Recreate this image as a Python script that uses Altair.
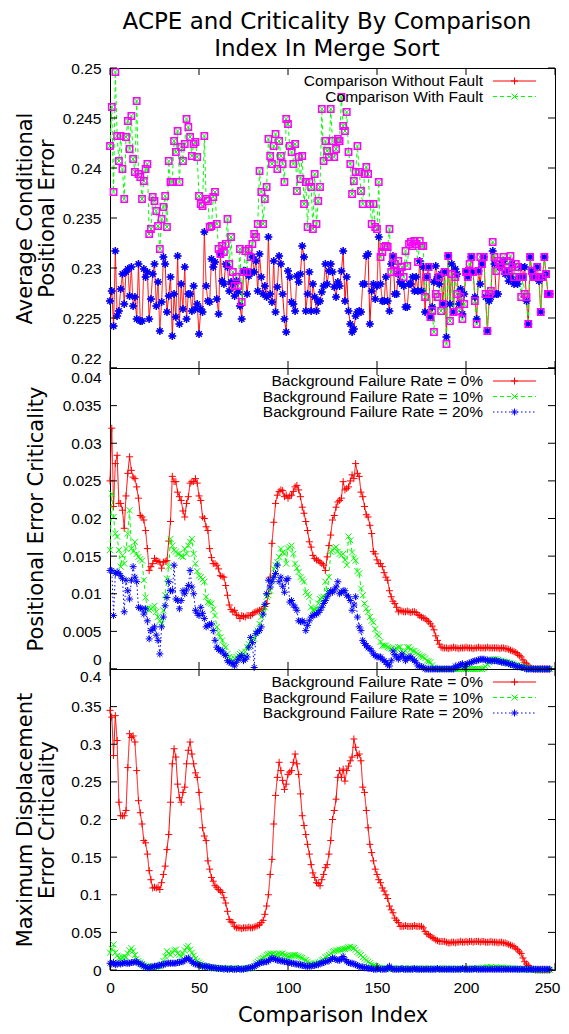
import altair as alt
import pandas as pd

IDX = list(range(248))

ACPE_WITHOUT = [
.2267,.2277,.2242,.2317,.2252,.2257,.2279,.2294,.2264,.2296,
.2299,.2272,.2301,.2262,.2271,.2249,.2304,.2247,.2247,.2299,
.2291,.2296,.2249,.2269,.2294,.2304,.2262,.2286,.2237,.2266,
.2311,.2304,.2256,.2272,.2291,.2232,.2274,.2251,.2312,.2244,
.2284,.2259,.2301,.2249,.2274,.2274,.2257,.2282,.2259,.2264,
.2234,.2259,.2256,.2336,.2282,.2267,.2266,.2309,.2301,.2306,
.2269,.2254,.2314,.2287,.2284,.2304,.2301,.2277,.2286,.2284,
.2272,.2287,.2276,.2262,.2249,.2297,.2297,.2274,.2292,.2296,
.2311,.2296,.2307,.2277,.2314,.2291,.2274,.2282,.2271,.2331,
.2274,.2266,.2307,.2256,.2281,.2312,.2304,.2274,.2249,.2236,
.2297,.2291,.2266,.2264,.2257,.2292,.2286,.2294,.2322,.2311,
.2257,.2274,.2296,.2257,.2284,.2271,.2257,.2266,.2267,.2276,
.2282,.2304,.2284,.2297,
.2304,.2296,.2281,.2271,.2286,.2282,.2297,.2317,
.2267,.2291,.2257,.2244,.2236,.2239,.2252,.2256,
.2257,.2256,.2284,.2284,.2312,.2314,.2244,.2277,.2284,.2269,.2282,.2331,.2284,.2267,
.2267,.2291,.2267,.2257,.2304,.2312,.2274,.2274,.2294,.2286,.2284,.2282,.2261,.2261,.2284,
.2284,.2291,.2277,.2291,.2277,.2307,.2277,.2301,.2256,.2291,.2301,.2251,.2261,.2286,.2302,
.2291,.2284,.2294,.2264,.2296,.2231,.2312,.2264,.2304,.2256,.2299,.2294,.2264,.2279,.2254,
.2274,.2297,.2291,.2296,.2311,.2296,.2271,.2249,.2297,.2284,.2304,.2311,.2271,.2237,.2267,
.2271,.2317,.2304,.2274,.2274,.2301,.2304,.2307,.2294,.2297,.2287,.2291,.2304,.2284,.2287,
.2284,.2291,.2301,.2291,.2301,.2267,.2244,.2311,.2297,.2291,.2291,.2301,.2287,.2256,.2291,.2311,.2294,.2274,.2274]

ACPE_WITH = [
.2422,.2461,.2376,.2496,.2432,.2407,.2432,.2399,.2369,.2431,
.2447,.2419,.2452,.2409,.2396,.2467,.2394,.2391,.2369,.2387,
.2399,.2404,.2334,.2339,.2371,.2367,.2357,.2342,.2319,.2349,
.2361,.2372,.2341,.2407,.2386,.2386,.2427,.2416,.2437,.2386,
.2421,.2407,.2424,.2449,.2441,.2431,.2412,.2424,.2426,.2411,
.2372,.2364,.2362,.2432,.2369,.2367,.2341,.2342,.2371,.2376,
.2344,.2319,.2314,.2322,.2316,.2324,.2349,.2304,.2331,.2296,
.2282,.2291,.2282,.2319,.2266,.2296,.2317,.2296,.2319,.2311,
.2324,.2334,.2331,.2344,.2397,.2376,.2344,.2369,.2381,.2429,
.2412,.2404,.2422,.2434,.2399,.2427,.2412,.2404,.2386,.2449,
.2444,.2422,.2416,.2404,.2424,.2377,.2411,.2389,.2412,.2364,
.2386,.2341,.2386,.2381,.2339,.2394,.2344,.2367,.2381,.2459,
.2407,.2427,.2417,.2411,
.2459,.2427,.2411,.2419,.2429,.2427,.2471,.2442,.2437,.2456,.2416,.2404,.2374,.2387,.2396,
.2422,
.2396,.2377,.2364,.2394,.2401,.2394,.2364,.2344,.2364,.2341,.2339,.2386,.2311,.2316,
.2321,.2322,.2321,.2339,.2296,.2311,.2304,.2296,.2307,.2296,.2301,.2291,.2317,.2302,.2324,
.2326,.2322,.2327,.2324,.2306,.2327,.2322,.2322,.2271,.2291,.2301,.2251,.2257,.2236,.2274,
.2271,.2291,.2257,.2264,.2296,.2224,.2312,.2247,.2294,.2256,.2291,.2274,.2257,.2271,.2249,
.2264,.2296,.2291,.2304,.2311,.2296,.2267,.2244,.2297,.2311,.2304,.2311,.2274,.2237,.2274,
.2277,.2326,.2311,.2297,.2307,.2304,.2301,.2311,.2297,.2307,.2297,.2312,.2301,.2291,.2304,
.2301,.2291,.2271,.2291,.2274,.2271,.2244,.2311,.2297,.2291,.2291,.2301,.2291,.2256,.2291,.2311,.2294,.2274,.2274]

PE_0 = [
.0250,.0320,.0216,.0273,.0284,.0220,.0220,.0211,.0187,.0230,
.0260,.0282,.0264,.0255,.0253,.0242,.0227,.0204,.0202,.0198,
.0184,.0160,.0131,.0136,.0140,.0147,.0144,.0143,.0142,.0134,
.0142,.0143,.0144,.0170,.0196,.0256,.0249,.0249,.0235,.0229,
.0224,.0210,.0202,.0220,.0229,.0247,.0249,.0249,.0253,.0247,
.0230,.0224,.0202,.0200,.0189,.0184,.0160,.0148,.0140,.0140,
.0138,.0133,.0124,.0123,.0122,.0111,.0098,.0085,.0079,.0076,
.0078,.0072,.0071,.0067,.0071,.0070,.0069,.0071,.0071,.0071,
.0073,.0075,.0076,.0077,.0078,.0079,.0080,.0083,.0087,.0100,
.0122,.0167,.0195,.0220,.0231,.0236,.0238,.0237,.0229,.0231,
.0227,.0230,.0231,.0236,.0242,.0244,.0238,.0229,.0215,.0207,
.0196,.0184,.0169,.0162,.0151,.0147,.0145,.0144,.0142,.0140,
.0138,.0131,.0149,.0164,.0178,.0198,.0204,.0215,.0222,.0224,
.0227,.0249,.0238,.0240,.0242,.0250,.0258,.0253,.0273,.0260,
.0256,.0235,.0229,.0216,.0205,.0202,.0191,.0180,.0156,.0153,
.0145,.0140,.0140,.0136,.0128,.0122,.0118,.0104,.0096,.0090,
.0087,.0082,.0076,.0078,.0077,.0076,.0076,.0077,.0076,.0075,
.0076,.0076,.0075,.0072,.0071,.0069,.0068,.0067,.0065,.0063,
.0060,.0057,.0052,.0044,.0038,.0033,.0029,.0028,.0028,.0028,
.0027,.0028,.0028,.0029,.0028,.0028,.0027,.0028,.0028,.0028,
.0029,.0028,.0028,.0028,.0027,.0028,.0028,.0029,.0028,.0028,
.0028,.0028,.0029,.0028,.0028,.0028,.0028,.0028,.0028,.0027,
.0028,.0028,.0027,.0027,.0026,.0025,.0024,.0023,.0022,.0020,
.0018,.0016,.0012,.0009,.0007,.0004,.0002,.0001,0,0,
0,0,0,0,0,0,0,0]

PE_10 = [
.0158,.0233,.0202,.0180,.0176,.0158,.0136,.0151,.0140,.0160,
.0180,.0211,.0160,.0156,.0169,.0153,.0149,.0146,.0144,.0118,
.0095,.0080,.0078,.0080,.0082,.0084,.0076,.0069,.0064,.0060,
.0078,.0098,.0120,.0136,.0173,.0164,.0158,.0156,.0153,.0153,
.0150,.0149,.0160,.0153,.0164,.0169,.0173,.0153,.0140,.0130,
.0124,.0122,.0119,.0116,.0096,.0089,.0088,.0087,.0079,.0071,
.0056,.0048,.0042,.0038,.0031,.0029,.0020,.0016,.0013,.0011,
.0014,.0016,.0018,.0020,.0022,.0016,.0023,.0029,.0033,.0036,
.0038,.0040,.0048,.0051,.0060,.0069,.0075,.0082,.0096,.0098,
.0104,.0118,.0133,.0138,.0142,.0149,.0160,.0155,.0153,.0140,
.0160,.0162,.0164,.0153,.0140,.0134,.0129,.0122,.0119,.0116,
.0102,.0099,.0096,.0082,.0078,.0079,.0080,.0087,.0093,.0095,
.0096,.0116,.0102,.0122,.0156,.0158,.0160,.0162,.0156,.0153,
.0151,.0153,.0145,.0138,.0176,.0171,.0155,.0147,.0144,.0130,
.0127,.0107,.0098,.0087,.0080,.0076,.0069,.0064,.0062,.0053,
.0046,.0044,.0036,.0031,.0031,.0031,.0029,.0028,.0027,.0024,
.0026,.0027,.0029,.0029,.0020,.0022,.0024,.0029,.0029,.0026,
.0024,.0024,.0022,.0020,.0018,.0017,.0016,.0014,.0011,.0010,
.0009,.0005,.0002,0,0,0,0,0,0,0,
0,0,0,0,0,0,0,0,0,0,
0,0,0,0,0,0,0,0,0,0,
.0001,.0003,.0006,.0009,.0011,.0013,.0013,.0013,.0012,.0011,
.0011,.0010,.0009,.0009,.0008,.0008,.0007,.0006,.0005,.0005,
.0004,.0003,.0003,.0002,.0002,.0001,0,0,0,0,
0,0,0,0,0,0,0,0]

PE_20 = [
.0131,.0131,.0071,.0127,.0129,.0127,.0124,.0120,.0076,.0118,
.0104,.0093,.0118,.0136,.0122,.0116,.0082,.0081,.0080,.0073,
.0080,.0064,.0040,.0051,.0053,.0056,.0045,.0038,.0020,.0056,
.0069,.0084,.0095,.0116,.0104,.0104,.0138,.0093,.0091,.0080,
.0091,.0104,.0100,.0105,.0111,.0131,.0109,.0100,.0078,.0074,
.0071,.0082,.0074,.0067,.0056,.0058,.0059,.0060,.0051,.0038,
.0029,.0026,.0024,.0024,.0020,.0018,.0011,.0009,.0008,.0007,
.0004,.0009,.0013,.0016,.0018,.0011,.0013,.0016,.0029,.0042,
.0035,.0002,.0047,.0050,.0051,.0056,.0073,.0086,.0100,.0118,
.0109,.0116,.0122,.0127,.0138,.0116,.0122,.0110,.0102,.0118,
.0120,.0089,.0091,.0085,.0082,.0078,.0064,.0063,.0064,.0062,
.0051,.0058,.0064,.0069,.0071,.0072,.0073,.0075,.0078,.0082,
.0087,.0091,.0096,.0100,.0104,.0102,.0105,.0109,.0116,.0100,
.0102,.0104,.0104,.0098,.0096,.0091,.0078,.0085,.0096,.0069,
.0056,.0051,.0038,.0034,.0031,.0028,.0027,.0024,.0020,.0018,
.0016,.0016,.0016,.0013,.0011,.0009,.0006,.0004,.0011,.0024,
.0019,.0016,.0013,.0016,.0020,.0016,.0011,.0014,.0016,.0016,
.0013,.0011,.0009,.0004,.0004,.0003,.0002,0,0,0,
0,0,0,0,0,0,0,0,0,0,
0,0,0,0,.0004,.0002,.0005,.0006,.0007,.0003,
.0006,.0007,.0008,.0009,.0010,.0011,.0011,.0012,.0013,.0013,
.0013,.0012,.0012,.0011,.0011,.0011,.0011,.0011,.0010,.0010,
.0009,.0009,.0008,.0008,.0007,.0006,.0006,.0005,.0004,.0003,
.0003,.0002,.0002,.0001,0,0,0,0,0,0,
0,0,0,0,0,0,0,0]

MD_0 = [
.345,.336,.285,.338,.305,.223,.205,.205,.205,.212,
.269,.314,.309,.311,.303,.265,.225,.209,.194,.172,
.169,.154,.132,.120,.109,.110,.109,.110,.107,.116,
.127,.138,.160,.180,.223,.274,.294,.283,.247,.229,
.223,.236,.243,.274,.292,.303,.287,.274,.262,.256,
.236,.214,.189,.178,.172,.145,.134,.123,.118,.112,
.110,.107,.105,.103,.096,.089,.078,.067,.064,.063,
.058,.056,.056,.056,.055,.056,.056,.056,.057,.056,
.056,.057,.058,.059,.060,.063,.066,.074,.085,.100,
.127,.147,.194,.232,.256,.276,.265,.252,.240,.247,
.260,.263,.265,.276,.287,.274,.260,.234,.205,.192,
.180,.167,.154,.140,.129,.123,.116,.115,.112,.120,
.127,.136,.140,.154,.172,.200,.212,.227,.256,.265,
.256,.267,.251,.265,.271,.278,.283,.307,.296,.285,
.287,.278,.243,.236,.212,.189,.167,.156,.145,.134,
.127,.120,.116,.109,.105,.100,.095,.085,.080,.076,
.069,.066,.063,.058,.058,.058,.059,.058,.058,.058,
.058,.059,.058,.058,.058,.058,.056,.051,.048,.047,
.045,.043,.042,.040,.039,.038,.038,.038,.038,.037,
.036,.036,.037,.037,.036,.037,.037,.038,.037,.037,
.038,.037,.038,.038,.037,.038,.038,.038,.037,.038,
.038,.037,.037,.037,.038,.037,.037,.037,.036,.037,
.037,.036,.036,.035,.034,.033,.032,.031,.029,.027,
.024,.022,.016,.011,.008,.006,.003,.001,.001,0,
0,0,0,0,0,0,0,0]

MD_10 = [
.023,.028,.034,.023,.019,.016,.015,.017,.018,.017,
.022,.026,.029,.025,.020,.015,.012,.010,.008,.006,
.005,.005,.004,.004,.004,.005,.004,.005,.005,.008,
.012,.018,.025,.022,.020,.023,.026,.027,.022,.020,
.018,.022,.026,.030,.032,.027,.023,.019,.015,.012,
.010,.008,.006,.005,.005,.004,.004,.003,.003,.003,
.002,.002,.002,.003,.002,.002,.002,.001,.002,.002,
.002,.001,.002,.002,.002,.001,.002,.002,.002,.003,
.003,.005,.009,.011,.013,.015,.016,.018,.020,.021,
.022,.021,.022,.020,.021,.022,.021,.022,.020,.019,
.018,.018,.019,.020,.020,.019,.018,.017,.016,.014,
.013,.011,.009,.008,.007,.008,.009,.010,.011,.013,
.014,.017,.018,.020,.022,.024,.025,.026,.026,.027,
.027,.028,.028,.029,.030,.031,.030,.029,.027,.024,
.022,.020,.017,.015,.013,.011,.009,.007,.006,.005,
.004,.003,.002,.002,.003,.002,.002,.001,.002,.002,
.002,.001,.002,.002,.001,.002,.002,.001,.002,.002,
.001,.002,.002,.001,.002,.001,.002,.002,.001,.002,
.002,.001,.002,.001,.002,.002,.001,.002,.001,.002,
.002,.001,.002,.001,.001,.002,.001,.002,.001,.001,
.002,.001,.002,.001,.002,.002,.001,.002,.002,.003,
.003,.003,.004,.003,.004,.003,.003,.004,.003,.003,
.003,.003,.002,.003,.002,.002,.002,.002,.001,.002,
.001,.001,.001,.001,.001,.001,0,.001,0,0,
0,0,0,0,0,0,0,0]

MD_20 = [
.009,.008,.010,.007,.008,.009,.008,.009,.010,.009,
.009,.009,.010,.010,.011,.011,.009,.008,.007,.005,
.004,.003,.003,.004,.004,.005,.005,.006,.006,.007,
.007,.008,.009,.009,.009,.009,.009,.009,.010,.010,
.011,.011,.013,.015,.016,.013,.011,.009,.008,.007,
.007,.006,.005,.005,.005,.004,.004,.003,.003,.003,
.002,.002,.002,.002,.001,.002,.001,.001,.002,.001,
.001,.001,.002,.001,.001,.001,.002,.002,.003,.003,
.004,.005,.006,.008,.009,.010,.010,.011,.011,.012,
.014,.016,.015,.014,.013,.013,.012,.012,.011,.011,
.010,.010,.009,.009,.008,.008,.007,.007,.006,.006,
.005,.005,.005,.005,.006,.006,.007,.007,.009,.009,
.010,.011,.012,.012,.014,.016,.015,.014,.013,.013,
.015,.018,.014,.011,.010,.009,.009,.008,.007,.006,
.005,.004,.004,.003,.003,.002,.002,.002,.001,.001,
.001,.002,.001,.001,.001,.001,.002,.005,.002,.001,
.001,.001,.001,.001,.002,.001,.001,.001,.001,.001,
.001,.002,.001,.001,.001,.001,.001,.001,.001,.001,
.001,.001,.001,.001,.002,.001,.001,.001,.001,.001,
.001,.001,.001,.001,.001,.001,.001,.001,.002,.001,
.001,.001,.001,.001,.001,.002,.001,.001,.001,.001,
.001,.001,.001,.001,.001,.001,.001,.001,.001,.001,
.001,.001,.001,.001,.001,.001,.001,.001,.001,.001,
.001,.001,.001,.001,.001,.001,.001,.001,.001,.001,
.001,.001,.001,.001,.001,.001,.001,.001]

TITLE = ["ACPE and Criticality By Comparison", "Index In Merge Sort"]
X_TITLE = "Comparison Index"
Y_TITLES = [["Average Conditional", "Positional Error"],
            "Positional Error Criticality",
            ["Maximum Displacement", "Error Criticality"]]
LEG_TOP = ["Comparison Without Fault", "Comparison With Fault"]
LEG_BG = ["Background Failure Rate = 0%", "Background Failure Rate = 10%",
          "Background Failure Rate = 20%"]
X_TICKS = [0, 50, 100, 150, 200, 250]
Y1_TICKS = [0.22, 0.225, 0.23, 0.235, 0.24, 0.245, 0.25]
Y2_TICKS = [0, 0.005, 0.01, 0.015, 0.02, 0.025, 0.03, 0.035, 0.04]
Y3_TICKS = [0, 0.05, 0.1, 0.15, 0.2, 0.25, 0.3, 0.35, 0.4]

PLUS = "M-1,0L1,0M0,-1L0,1"
CROSS = "M-1,-1L1,1M-1,1L1,-1"
STAR = "M-1,0L1,0M0,-1L0,1M-0.7,-0.7L0.7,0.7M-0.7,0.7L0.7,-0.7"
SQUARE = "square"

RED, GREEN, BLUE, MAGENTA = "#ff0000", "#00ff00", "#0000ff", "#ff00ff"
SOLID, DASHED, DOTTED = [1, 0], [4, 3], [1.5, 2.5]

W = 445
LAB_FONT = "Liberation Sans"
TIT_FONT = "DejaVu Sans"
LAB_SIZE = 15.5


def make_panel(series, legend, ydom, yticks, ytitle, h, show_x, label_opts):
    xs = alt.Scale(domain=[0, 250], nice=False, zero=False)
    ys = alt.Scale(domain=ydom, nice=False, zero=False)
    if show_x:
        xaxis = alt.Axis(values=X_TICKS, title=X_TITLE, ticks=False, domain=False, grid=False,
                         labelFont=LAB_FONT, labelFontSize=LAB_SIZE, labelColor="black",
                         labelPadding=10, labelFlush=False,
                         labelAlign=alt.condition("datum.value == 250", alt.value("right"),
                                                  alt.value("center")),
                         labelOffset=alt.condition("datum.value == 250", alt.value(5),
                                                   alt.value(0)),
                         titleFont=TIT_FONT, titleFontSize=21, titleFontWeight="normal",
                         titleColor="black", titlePadding=9)
    else:
        xaxis = None
    multi = isinstance(ytitle, list)
    yaxis = alt.Axis(values=yticks, format="~g", title=ytitle, ticks=False, domain=False,
                     grid=False, labelFont=LAB_FONT, labelFontSize=LAB_SIZE,
                     labelColor="black", labelPadding=9,
                     titleFont=TIT_FONT, titleFontSize=21, titleFontWeight="normal",
                     titleColor="black", titleX=-85 if multi else -74, titleY=h / 2,
                     titleAngle=-90, titleAlign="center", titleBaseline="middle",
                     titleLineHeight=22, **label_opts)
    layers = []
    for vals, color, dash, shape, size, mcolor, msize in series:
        df = pd.DataFrame({"idx": IDX, "v": vals})
        layers.append(alt.Chart(df).mark_line(color=color, strokeWidth=1, strokeDash=dash).encode(
            x=alt.X("idx:Q", scale=xs, axis=xaxis), y=alt.Y("v:Q", scale=ys, axis=yaxis)))
        layers.append(alt.Chart(df).mark_point(shape=shape, filled=False, color=color,
                                               strokeWidth=1, size=size, opacity=1).encode(
            x=alt.X("idx:Q", scale=xs, axis=xaxis), y=alt.Y("v:Q", scale=ys, axis=yaxis)))
    for vals, color, dash, shape, size, mcolor, msize in series:
        if mcolor is None:
            continue
        df = pd.DataFrame({"idx": IDX, "v": vals})
        mshape = STAR if mcolor == BLUE else SQUARE
        layers.append(alt.Chart(df).mark_point(shape=mshape, filled=False, color=mcolor,
                                               strokeWidth=1.5, size=msize, opacity=1).encode(
            x=alt.X("idx:Q", scale=xs, axis=xaxis), y=alt.Y("v:Q", scale=ys, axis=yaxis)))
    ydf = pd.DataFrame({"t": yticks})
    xdf = pd.DataFrame({"t": X_TICKS})
    for a, b in [(0, 7), (W - 7, W)]:
        layers.append(alt.Chart(ydf).mark_rule(color="black", strokeWidth=1).encode(
            y=alt.Y("t:Q", scale=ys, axis=yaxis), x=alt.value(a), x2=alt.value(b)))
    for a, b in [(0, 7), (h - 7, h)]:
        layers.append(alt.Chart(xdf).mark_rule(color="black", strokeWidth=1).encode(
            x=alt.X("t:Q", scale=xs, axis=xaxis), y=alt.value(a), y2=alt.value(b)))
    for k, (label, (vals, color, dash, shape, size, mcolor, msize)) in enumerate(zip(legend, series)):
        ly = 13 + 15.5 * k
        ldf = pd.DataFrame({"label": [label]})
        layers.append(alt.Chart(ldf).mark_rule(color=color, strokeWidth=1, strokeDash=dash).encode(
            x=alt.value(383), x2=alt.value(426), y=alt.value(ly)))
        layers.append(alt.Chart(ldf).mark_point(shape=shape, filled=False, color=color,
                                                strokeWidth=1, size=size, opacity=1).encode(
            x=alt.value(404.5), y=alt.value(ly)))
        layers.append(alt.Chart(ldf).mark_text(align="right", baseline="middle", font=LAB_FONT,
                                               fontSize=LAB_SIZE, color="black").encode(
            x=alt.value(373), y=alt.value(ly), text="label:N"))
    return alt.layer(*layers).properties(width=W, height=h)


p1 = make_panel(
    [(ACPE_WITHOUT, RED, SOLID, PLUS, 49, BLUE, 64),
     (ACPE_WITH, GREEN, DASHED, CROSS, 36, MAGENTA, 40)],
    LEG_TOP, [0.22, 0.25], Y1_TICKS, Y_TITLES[0], 300, False,
    {"labelFlush": False,
     "labelBaseline": alt.condition("datum.value == 0.22", alt.value("bottom"), alt.value("middle")),
     "labelOffset": alt.condition("datum.value == 0.22", alt.value(-2), alt.value(0))})
p2 = make_panel(
    [(PE_0, RED, SOLID, PLUS, 49, None, 0),
     (PE_10, GREEN, DASHED, CROSS, 36, None, 0),
     (PE_20, BLUE, DOTTED, STAR, 49, None, 0)],
    LEG_BG, [0, 0.04], Y2_TICKS, Y_TITLES[1], 301, False,
    {"labelFlush": True, "labelFlushOffset": -2})
p3 = make_panel(
    [(MD_0, RED, SOLID, PLUS, 49, None, 0),
     (MD_10, GREEN, DASHED, CROSS, 36, None, 0),
     (MD_20, BLUE, DOTTED, STAR, 49, None, 0)],
    LEG_BG, [0, 0.4], Y3_TICKS, Y_TITLES[2], 301, True,
    {"labelFlush": False,
     "labelBaseline": alt.condition("datum.value == 0.4", alt.value("top"), alt.value("middle"))})

chart = alt.vconcat(p1, p2, p3, spacing=0, bounds="flush").properties(
    title=alt.TitleParams(TITLE, font=TIT_FONT, fontSize=23, fontWeight="normal",
                          color="black", anchor="middle", offset=0, lineHeight=27, dx=40),
    padding={"left": 5, "top": 2, "right": 0, "bottom": 0},
    background="white",
).configure_view(stroke="black", strokeWidth=1)

chart.save("out.html", embed_options={"renderer": "svg", "actions": False})
